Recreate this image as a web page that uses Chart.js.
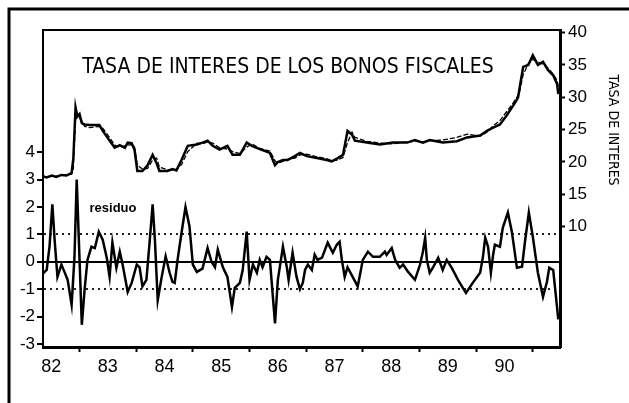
<!DOCTYPE html>
<html>
<head>
<meta charset="utf-8">
<script src="https://cdn.jsdelivr.net/npm/chart.js@4/dist/chart.umd.min.js"></script>
<style>
  html, body { margin: 0; padding: 0; background: #fff; }
  #wrap { width: 629px; height: 403px; }
</style>
</head>
<body>
<div id="wrap"><canvas id="grafico" width="629" height="403"></canvas></div>
<script>
// tasa de interes (eje derecho) y su ajuste, fechas en años decimales
const fechasTasa = [1982.33, 1982.42, 1982.51, 1982.59, 1982.68, 1982.77, 1982.86, 1982.89, 1982.93, 1982.96,
  1983.00, 1983.04, 1983.09, 1983.18, 1983.35, 1983.41, 1983.53, 1983.62, 1983.71, 1983.80,
  1983.85, 1983.92, 1983.97, 1984.02, 1984.11, 1984.20, 1984.29, 1984.36, 1984.41, 1984.55,
  1984.64, 1984.71, 1984.80, 1984.91, 1985.07, 1985.17, 1985.26, 1985.35, 1985.47, 1985.61,
  1985.70, 1985.83, 1985.95, 1986.04, 1986.18, 1986.36, 1986.45, 1986.50, 1986.59, 1986.67,
  1986.80, 1986.89, 1987.01, 1987.19, 1987.36, 1987.45, 1987.56, 1987.65, 1987.73, 1987.81,
  1987.86, 1988.07, 1988.30, 1988.53, 1988.78, 1988.92, 1989.06, 1989.18, 1989.41, 1989.66,
  1989.84, 1990.07, 1990.19, 1990.30, 1990.42, 1990.54, 1990.63, 1990.69, 1990.74, 1990.77,
  1990.83, 1990.92, 1991.00, 1991.09, 1991.18, 1991.27, 1991.36, 1991.43, 1991.45];
const tasa = [17.8, 17.6, 17.9, 17.7, 18.0, 17.9, 18.3, 20.5, 28.4, 27.0,
  27.4, 26.0, 25.8, 25.7, 25.7, 24.8, 23.3, 22.2, 22.6, 22.2,
  23.0, 22.9, 21.9, 18.6, 18.6, 19.5, 21.1, 19.8, 18.6, 18.6,
  18.9, 18.7, 20.3, 22.5, 22.7, 23.0, 23.3, 22.5, 21.9, 22.5,
  21.1, 21.1, 23.0, 22.5, 22.0, 21.4, 19.5, 20.0, 20.3, 20.3,
  20.9, 21.4, 20.9, 20.6, 20.3, 20.1, 20.6, 21.1, 24.8, 24.2,
  23.3, 23.0, 22.7, 23.0, 23.0, 23.4, 23.0, 23.4, 23.0, 23.2,
  23.8, 24.1, 24.8, 25.3, 25.8, 27.2, 28.4, 29.2, 30.0, 31.6,
  34.7, 35.0, 36.5, 35.0, 35.5, 34.2, 33.4, 32.0, 30.5];
const ajuste = [17.9, 17.7, 17.8, 17.8, 17.9, 18.0, 18.1, 19.0, 26.8, 27.6,
  26.8, 26.3, 25.5, 25.3, 25.5, 25.2, 23.8, 22.6, 22.3, 22.5,
  22.6, 22.7, 22.3, 19.5, 18.9, 19.0, 20.3, 20.6, 19.2, 18.8,
  18.7, 18.9, 19.6, 21.6, 22.9, 22.8, 23.1, 22.9, 22.2, 22.0,
  21.6, 21.3, 22.3, 22.8, 22.1, 21.7, 20.2, 19.8, 20.1, 20.4,
  20.6, 21.1, 21.2, 20.8, 20.5, 20.2, 20.3, 20.7, 23.0, 24.6,
  23.8, 23.2, 22.9, 22.8, 23.1, 23.2, 23.1, 23.3, 23.4, 23.8,
  24.3, 24.0, 24.6, 25.6, 26.4, 27.8, 28.8, 29.6, 30.3, 31.0,
  33.5, 35.2, 35.8, 35.5, 35.1, 34.5, 33.6, 32.6, 31.5];

// residuo (eje izquierdo)
const fechasRes = [1982.33, 1982.42, 1982.47, 1982.52, 1982.56, 1982.61, 1982.68, 1982.73, 1982.79, 1982.86,
  1982.88, 1982.91, 1982.95, 1983.00, 1983.04, 1983.09, 1983.14, 1983.21, 1983.27, 1983.34,
  1983.41, 1983.48, 1983.53, 1983.58, 1983.65, 1983.71, 1983.76, 1983.85, 1983.92, 1984.01,
  1984.06, 1984.11, 1984.18, 1984.24, 1984.29, 1984.33, 1984.38, 1984.45, 1984.52, 1984.59,
  1984.64, 1984.68, 1984.73, 1984.80, 1984.87, 1984.94, 1985.00, 1985.07, 1985.17, 1985.26,
  1985.33, 1985.39, 1985.44, 1985.53, 1985.61, 1985.69, 1985.74, 1985.83, 1985.88, 1985.95,
  1986.00, 1986.06, 1986.13, 1986.18, 1986.23, 1986.30, 1986.36, 1986.45, 1986.50, 1986.59,
  1986.66, 1986.69, 1986.76, 1986.83, 1986.89, 1986.94, 1986.98, 1987.03, 1987.10, 1987.15,
  1987.20, 1987.28, 1987.38, 1987.47, 1987.54, 1987.59, 1987.63, 1987.68, 1987.73, 1987.82,
  1987.91, 1988.00, 1988.09, 1988.18, 1988.30, 1988.39, 1988.42, 1988.51, 1988.57, 1988.65,
  1988.71, 1988.80, 1988.92, 1989.01, 1989.06, 1989.10, 1989.13, 1989.18, 1989.24, 1989.33,
  1989.41, 1989.48, 1989.57, 1989.68, 1989.82, 1989.94, 1990.07, 1990.12, 1990.16, 1990.21,
  1990.26, 1990.30, 1990.33, 1990.42, 1990.47, 1990.56, 1990.63, 1990.72, 1990.81, 1990.86,
  1990.93, 1991.00, 1991.09, 1991.18, 1991.25, 1991.29, 1991.36, 1991.39, 1991.45];
const residuo = [-0.48, -0.3, 0.55, 2.1, 0.8, -0.55, -0.1, -0.35, -0.66, -1.57,
  -0.9, 0.15, 3.0, 0.07, -2.3, -1.0, 0.07, 0.55, 0.5, 1.1,
  0.8, 0.15, -0.55, 0.7, -0.22, 0.37, -0.1, -1.1, -0.77, -0.1,
  -0.2, -0.9, -0.66, 0.8, 2.1, 0.8, -1.4, -0.55, 0.2, -0.4,
  -0.73, -0.77, 0.07, 1.06, 2.0, 1.3, -0.1, -0.37, -0.25, 0.5,
  0.0, -0.2, 0.44, -0.2, -0.55, -1.65, -0.95, -0.77, -0.3, 1.1,
  -0.66, -0.1, -0.4, 0.07, -0.2, 0.18, 0.07, -2.25, -0.66, 0.55,
  -0.22, -0.66, 0.33, -0.55, -1.0, -0.77, -0.3, -0.1, -0.3, 0.26,
  0.07, 0.15, 0.7, 0.33, 0.62, 0.73, 0.07, -0.55, -0.2, -0.55,
  -0.9, 0.07, 0.37, 0.18, 0.18, 0.37, 0.25, 0.5, 0.07, -0.22,
  -0.1, -0.37, -0.66, -0.1, 0.37, 0.88, 0.07, -0.4, -0.2, 0.15,
  -0.3, 0.07, -0.22, -0.66, -1.14, -0.77, -0.4, 0.18, 0.88, 0.55,
  -0.4, 0.26, 0.62, 0.55, 1.24, 1.8, 1.1, -0.22, -0.18, 0.7,
  1.8, 0.92, -0.4, -1.28, -0.73, -0.22, -0.3, -0.9, -2.1];

const anios = [82, 83, 84, 85, 86, 87, 88, 89, 90];
const ticksIzq = [-3, -2, -1, 0, 1, 2, 3, 4];
const ticksDer = [10, 15, 20, 25, 30, 35, 40];

function puntos(xs, ys) {
  let res = [];
  for (let i = 0; i < xs.length; i++) res.push({ x: xs[i], y: ys[i] });
  return res;
}

const fuente = "'Liberation Sans', Arial, sans-serif";
const angosta = "'Liberation Sans Narrow', 'DejaVu Sans Condensed', 'Liberation Sans', sans-serif";

// marco exterior, borde superior y textos
const marco = {
  id: "marco",
  afterDraw(chart) {
    const ctx = chart.ctx;
    const a = chart.chartArea;
    ctx.save();
    ctx.strokeStyle = "#000";
    ctx.lineWidth = 3;
    ctx.beginPath();
    ctx.moveTo(9, 403);
    ctx.lineTo(9, 9);
    ctx.lineTo(629, 9);
    ctx.stroke();
    ctx.lineWidth = 2;
    ctx.beginPath();
    ctx.moveTo(a.left, a.top);
    ctx.lineTo(a.right, a.top);
    ctx.stroke();

    ctx.fillStyle = "#000";
    ctx.textAlign = "center";
    ctx.textBaseline = "middle";
    ctx.font = "21px " + angosta;
    ctx.fillText("TASA DE INTERES DE LOS BONOS FISCALES", a.left + 245, a.top + 38);
    ctx.font = "bold 13px " + fuente;
    ctx.fillText("residuo", a.left + 70, 208);

    ctx.translate(613, 130);
    ctx.rotate(Math.PI / 2);
    ctx.font = "14px " + angosta;
    ctx.fillText("TASA DE INTERES", 0, 0);
    ctx.restore();
  },
};

new Chart(document.getElementById("grafico"), {
  type: "line",
  data: {
    datasets: [
      {
        label: "tasa",
        data: puntos(fechasTasa, tasa),
        yAxisID: "y2",
        borderColor: "#000",
        borderWidth: 2.5,
        pointRadius: 0,
        tension: 0,
      },
      {
        label: "ajuste",
        data: puntos(fechasTasa, ajuste),
        yAxisID: "y2",
        borderColor: "#000",
        borderWidth: 1.3,
        borderDash: [5, 2],
        pointRadius: 0,
        tension: 0,
      },
      {
        label: "residuo",
        data: puntos(fechasRes, residuo),
        yAxisID: "y",
        borderColor: "#000",
        borderWidth: 2.5,
        pointRadius: 0,
        tension: 0,
      },
    ],
  },
  options: {
    responsive: false,
    animation: false,
    layout: { padding: { top: 30, left: 0, right: 0, bottom: 0 } },
    plugins: { legend: { display: false }, tooltip: { enabled: false } },
    scales: {
      x: {
        type: "linear",
        min: 1982.355,
        max: 1991.48,
        afterBuildTicks: (s) => {
          let t = [];
          for (let a of anios) {
            t.push({ value: 1900 + a + 0.5 });
            t.push({ value: 1900 + a + 1 });
          }
          s.ticks = t;
        },
        afterFit: (s) => { s.height = 56; },
        ticks: {
          autoSkip: false,
          maxRotation: 0,
          padding: 4,
          color: "#000",
          font: { family: fuente, size: 18 },
          callback: (v) => (Number.isInteger(v) ? "" : String(Math.floor(v)).slice(2)),
        },
        grid: {
          drawOnChartArea: false,
          tickLength: 5,
          tickWidth: 2,
          tickColor: (c) => (c.tick && Number.isInteger(c.tick.value) ? "#000" : "rgba(0,0,0,0)"),
        },
        border: { display: true, color: "#000", width: 3 },
      },
      y: {
        position: "left",
        min: -3.11,
        max: 8.46,
        afterBuildTicks: (s) => { s.ticks = ticksIzq.map((v) => ({ value: v })); },
        afterFit: (s) => { s.width = 43; },
        ticks: {
          padding: 2,
          color: "#000",
          font: { family: fuente, size: 17 },
        },
        grid: {
          drawOnChartArea: true,
          tickLength: 6,
          tickWidth: 2,
          tickColor: "#000",
          lineWidth: (c) => (c.tick && c.tick.value === 0 ? 2 : 2),
          color: (c) => {
            if (!c.tick) return "rgba(0,0,0,0)";
            let v = c.tick.value;
            if (v === 0) return "#000";
            if (v === 1 || v === -1) return "#222";
            return "rgba(0,0,0,0)";
          },
        },
        border: {
          display: true,
          color: "#000",
          width: 2,
          dash: (c) => (c.tick && c.tick.value !== 0 ? [2, 4] : []),
        },
      },
      y2: {
        position: "right",
        min: -8.6,
        max: 40.4,
        afterBuildTicks: (s) => { s.ticks = ticksDer.map((v) => ({ value: v })); },
        afterFit: (s) => { s.width = 69; },
        ticks: {
          padding: 3,
          color: "#000",
          font: { family: fuente, size: 17 },
        },
        grid: { drawOnChartArea: false, tickLength: 5, tickWidth: 2, tickColor: "#000" },
        border: { display: true, color: "#000", width: 3 },
      },
    },
  },
  plugins: [marco],
});
</script>
</body>
</html>
